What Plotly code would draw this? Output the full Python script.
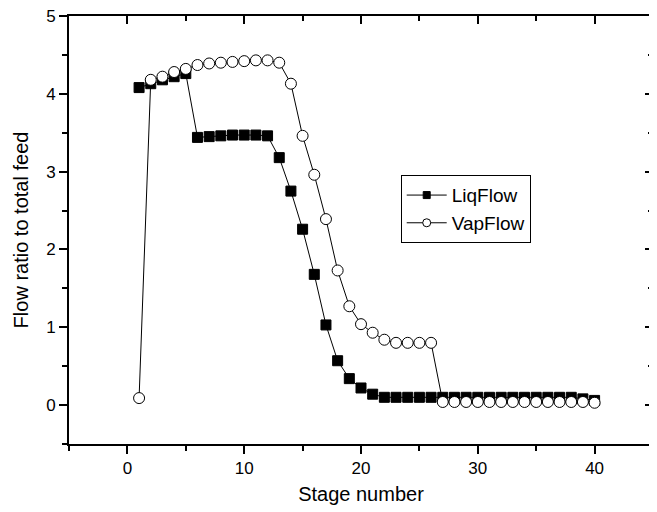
import plotly.graph_objects as go

stages = list(range(1, 41))
liq_flow = [4.08, 4.13, 4.18, 4.22, 4.26, 3.44, 3.45, 3.46, 3.47, 3.47,
            3.47, 3.46, 3.18, 2.75, 2.26, 1.68, 1.03, 0.57, 0.34, 0.22,
            0.14, 0.10, 0.10, 0.10, 0.10, 0.10, 0.10, 0.10, 0.10, 0.10,
            0.10, 0.10, 0.10, 0.10, 0.10, 0.10, 0.10, 0.10, 0.08, 0.06]
vap_flow = [0.09, 4.18, 4.22, 4.28, 4.32, 4.37, 4.39, 4.40, 4.41, 4.42,
            4.43, 4.43, 4.40, 4.13, 3.46, 2.96, 2.39, 1.73, 1.27, 1.04,
            0.93, 0.84, 0.80, 0.80, 0.80, 0.80, 0.04, 0.04, 0.04, 0.04,
            0.04, 0.04, 0.04, 0.04, 0.04, 0.04, 0.04, 0.04, 0.04, 0.03]

x_ticks = [0, 10, 20, 30, 40]
y_ticks = [0, 1, 2, 3, 4, 5]
x_range = [-5, 45]
y_range = [-0.5, 5]

FONT = "Liberation Sans, Arial, sans-serif"

fig = go.Figure()
fig.add_trace(go.Scatter(
    x=stages, y=liq_flow, name="LiqFlow", mode="lines+markers",
    line=dict(color="black", width=1), showlegend=False,
    marker=dict(symbol="square", size=10, color="black",
                line=dict(color="black", width=1)),
))
fig.add_trace(go.Scatter(
    x=stages, y=vap_flow, name="VapFlow", mode="lines+markers",
    line=dict(color="black", width=1), showlegend=False,
    marker=dict(symbol="circle", size=11, color="white",
                line=dict(color="black", width=1)),
))
# legend entries (smaller symbols, as in the reference legend)
fig.add_trace(go.Scatter(
    x=[None], y=[None], name="LiqFlow", mode="lines+markers",
    line=dict(color="black", width=1),
    marker=dict(symbol="square", size=7, color="black",
                line=dict(color="black", width=1)),
))
fig.add_trace(go.Scatter(
    x=[None], y=[None], name="VapFlow", mode="lines+markers",
    line=dict(color="black", width=1),
    marker=dict(symbol="circle", size=8, color="white",
                line=dict(color="black", width=1)),
))
# empty trace so the mirrored (top/right) frame axes are drawn
fig.add_trace(go.Scatter(x=[None], y=[None], xaxis="x2", yaxis="y2",
                         showlegend=False, hoverinfo="skip"))

axis_common = dict(showgrid=False, zeroline=False, showline=True,
                   linecolor="black", linewidth=2, tickcolor="black",
                   tickwidth=2, automargin=False, ticklabeloverflow="allow",
                   tickfont=dict(family=FONT, size=17, color="black"))

fig.update_layout(
    width=657, height=512,
    margin=dict(l=61, r=12, t=8, b=76),
    paper_bgcolor="white", plot_bgcolor="white",
    font=dict(family=FONT, color="black"),
    xaxis=dict(range=x_range, tickvals=x_ticks, ticks="outside", ticklen=8,
               minor=dict(tickvals=[-5, 5, 15, 25, 35, 45], ticks="outside",
                          ticklen=5, tickwidth=2, tickcolor="black"),
               title=dict(text="Stage number", font=dict(family=FONT, size=20),
                          standoff=10),
               **axis_common),
    yaxis=dict(range=y_range, tickvals=y_ticks, ticks="outside", ticklen=8,
               minor=dict(tickvals=[-0.5, 0.5, 1.5, 2.5, 3.5, 4.5], ticks="outside",
                          ticklen=5, tickwidth=2, tickcolor="black"),
               title=dict(text="Flow ratio to total feed",
                          font=dict(family=FONT, size=20), standoff=12),
               **axis_common),
    xaxis2=dict(range=x_range, overlaying="x", side="top", anchor="y2",
                tickvals=x_ticks, ticks="inside", ticklen=8, showticklabels=False,
                minor=dict(tickvals=[5, 15, 25, 35], ticks="inside",
                           ticklen=5, tickwidth=2, tickcolor="black"),
                **axis_common),
    yaxis2=dict(range=y_range, overlaying="y", side="right", anchor="x2",
                tickvals=y_ticks, ticks="inside", ticklen=8, showticklabels=False,
                minor=dict(tickvals=[0.5, 1.5, 2.5, 3.5, 4.5], ticks="inside",
                           ticklen=5, tickwidth=2, tickcolor="black"),
                **axis_common),
    legend=dict(x=0.568, y=0.628, xanchor="left", yanchor="top",
                bordercolor="black", borderwidth=1, bgcolor="white",
                font=dict(family=FONT, size=19, color="black"),
                itemwidth=40, tracegroupgap=0),
    showlegend=True,
)

fig.write_html("out.html")
